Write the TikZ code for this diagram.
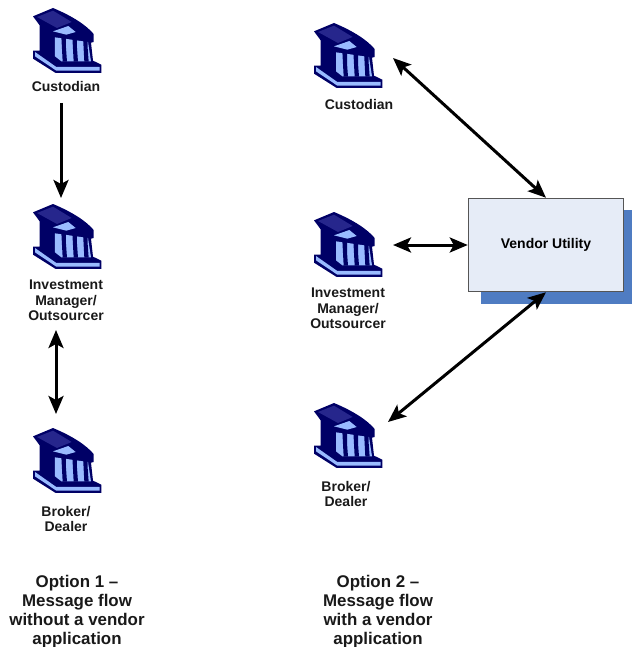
\documentclass[tikz,border=0pt]{standalone}
\usepackage{fontspec}
\usetikzlibrary{arrows.meta}
\setmainfont{Liberation Sans}
\definecolor{navy}{HTML}{000066}
\definecolor{midb}{HTML}{26268C}
\definecolor{lightb}{HTML}{99BBFF}
\definecolor{boxfill}{HTML}{E6ECF7}
\definecolor{shadowb}{HTML}{4F7CC2}
\definecolor{boxline}{HTML}{555555}
\tikzset{
  x=1pt,y=-1pt,
  lbl/.style={font=\fontsize{14}{15.6}\selectfont\bfseries,align=center,inner sep=0pt,text=black!90},
  ttl/.style={font=\fontsize{16.9}{18.9}\selectfont\bfseries,align=center,inner sep=0pt,text=black!90},
  iconbox/.style={minimum width=68pt,minimum height=64pt,inner sep=0pt,anchor=north west},
  flow/.style={line width=3pt,-{Stealth[length=18pt,width=15pt,inset=4pt]}},
  dflow/.style={line width=3pt,{Stealth[length=18pt,width=15pt,inset=4pt]}-{Stealth[length=18pt,width=15pt,inset=4pt]}},
  bank/.pic={
    \begin{scope}[x=0.3333pt,y=-0.3333pt,line join=round,shift={(-40pt*0.3333,20pt*0.3333)}]
      % silhouette
      \fill[navy] (40,45) -- (100,20) .. controls (160,45) and (200,72) .. (222,98) -- (222,122) -- (214,124) -- (220,178) -- (245,190) -- (245,215) -- (108,215) -- (40,172) -- (40,148) -- (60,148) -- (60,72) -- cycle;
      % backdrop between the columns
      \fill[lightb] (106,108) -- (205,122) -- (214,180) -- (125,180) -- (106,165) -- cycle;
      % columns
      \foreach \c in {132,165,197}{
        \fill[navy] (\c-7,105) -- (\c+7,105) -- (\c+7,140) -- (\c+10,181) -- (\c-3,181) -- cycle;
      }
      % steps
      \fill[lightb] (46,152) -- (110,197) -- (240,197) -- (240,208) -- (110,208) -- (46,165) -- cycle;
      % roof
      \fill[midb] (52,47) -- (100,28) -- (156,62) -- (112,80) -- cycle;
      \fill[lightb] (100,90) -- (146,74) -- (168,92) -- (140,100) -- cycle;
    \end{scope}
  }
}
\begin{document}
\begin{tikzpicture}
\useasboundingbox (0,0) rectangle (632,647);
% icons
\node[iconbox] (ic1) at (33,8) {}; \pic at (ic1.north west) {bank};
\node[iconbox] (ic2) at (33,204) {}; \pic at (ic2.north west) {bank};
\node[iconbox] (ic3) at (33,428) {}; \pic at (ic3.north west) {bank};
\node[iconbox] (ic4) at (314,23) {}; \pic at (ic4.north west) {bank};
\node[iconbox] (ic5) at (314,212) {}; \pic at (ic5.north west) {bank};
\node[iconbox] (ic6) at (314,403) {}; \pic at (ic6.north west) {bank};
% labels
\node[lbl] (l1) at (66,86) {Custodian};
\node[lbl] (l2) at (66,300.5) {Investment\\Manager/\\Outsourcer};
\node[lbl] (l3) at (66,519) {Broker/\\Dealer};
\node[lbl] (l4) at (359,104.5) {Custodian};
\node[lbl] (l5) at (348,308.5) {Investment\\Manager/\\Outsourcer};
\node[lbl] (l6) at (346,494) {Broker/\\Dealer};
\node[ttl] (t1) at (77,611.5) {Option 1 –\\Message flow\\without a vendor\\application};
\node[ttl] (t2) at (378,611.5) {Option 2 –\\Message flow\\with a vendor\\application};
% vendor box
\fill[shadowb] (481,210) rectangle (632,304);
\node[draw=boxline,line width=1pt,fill=boxfill,minimum width=155.5pt,minimum height=93.5pt,inner sep=0pt,
  font=\fontsize{14}{15.6}\selectfont\bfseries] (vendor) at (546,245) {\raisebox{-1.5pt}{Vendor Utility}};
% free ends
\coordinate (a1) at (61,103); \coordinate (a2) at (61,198);
\coordinate (b1) at (56,330); \coordinate (b2) at (56,414);
\coordinate (c1) at (393,58); \coordinate (d1) at (393,245); \coordinate (e1) at (388,422);
% connectors
\draw[flow] (a1) -- (a2);
\draw[dflow] (b1) -- (b2);
\draw[dflow] (c1) -- (vendor.north);
\draw[dflow] (d1) -- (vendor.west);
\draw[dflow] (e1) -- (vendor.south);
\end{tikzpicture}
\end{document}
